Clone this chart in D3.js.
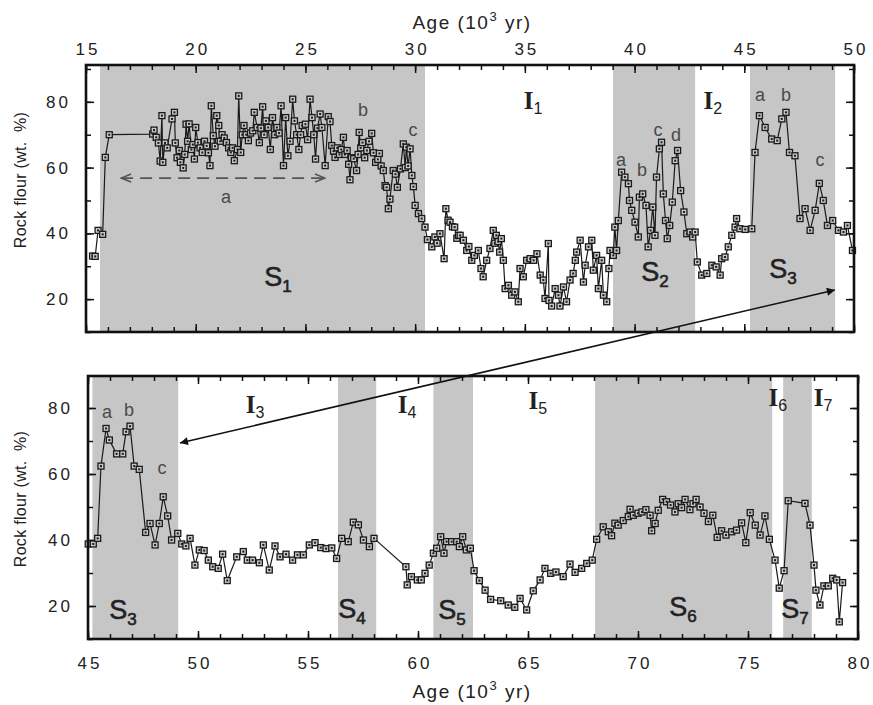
<!DOCTYPE html>
<html>
<head>
<meta charset="utf-8">
<script src="https://cdn.jsdelivr.net/npm/d3@7"></script>
<style>
  body { margin: 0; background: #fff; }
  text { font-family: "Liberation Sans", Arial, sans-serif; fill: #222; }
</style>
</head>
<body>
<div id="chart"></div>
<script>
const width = 873, height = 705;

// stadial bands (start, end) in 10^3 yr
const topStadials = [[15.64, 30.45], [39.02, 42.76], [45.26, 49.14]];
const bottomStadials = [[45.2, 49.1], [56.36, 58.1], [60.7, 62.5], [68.05, 76.1], [76.6, 77.9]];

const topAgeTicks = [15, 20, 25, 30, 35, 40, 45, 50];
const bottomAgeTicks = [45, 50, 55, 60, 65, 70, 75, 80];
const flourTicks = [20, 40, 60, 80];

// rock flour record [age, wt %]
const topRecord = [
  [15.30,33.1],[15.42,33.0],[15.55,40.9],[15.76,39.7],[15.88,63.1],[16.06,70.0],
  [18.04,70.2],[18.10,71.4],[18.20,69.2],[18.30,67.5],[18.38,62.0],[18.46,75.8],[18.50,61.6],[18.60,67.5],
  [18.70,66.0],[18.92,74.8],[19.03,76.8],[19.07,67.5],[19.15,63.0],[19.25,65.2],[19.30,61.6],[19.43,59.9],
  [19.50,64.0],[19.56,73.2],[19.63,68.0],[19.70,73.3],[19.80,65.5],[19.87,67.0],[19.94,62.6],[20.00,72.2],
  [20.10,67.6],[20.20,66.0],[20.30,64.6],[20.40,68.0],[20.50,66.6],[20.58,64.5],[20.65,60.6],[20.71,78.8],
  [20.80,69.7],[20.88,66.5],[20.96,75.8],[21.05,72.8],[21.12,68.0],[21.20,70.0],[21.30,69.0],[21.40,67.6],
  [21.50,66.0],[21.60,64.6],[21.68,66.0],[21.76,62.1],[21.90,65.5],[21.96,81.8],[22.05,64.6],[22.12,70.0],
  [22.20,72.8],[22.30,70.0],[22.40,68.2],[22.50,70.5],[22.60,71.2],[22.67,76.8],[22.80,72.2],[22.90,67.6],
  [22.97,72.0],[23.05,78.5],[23.12,70.0],[23.20,74.2],[23.30,72.2],[23.40,65.5],[23.50,75.2],[23.60,70.0],
  [23.70,72.2],[23.80,70.5],[23.89,78.8],[24.00,60.6],[24.10,75.2],[24.20,63.6],[24.30,68.0],[24.42,80.8],
  [24.50,74.2],[24.60,70.0],[24.70,65.5],[24.78,70.0],[24.85,72.8],[25.00,73.2],[25.10,68.5],[25.21,80.8],
  [25.30,75.2],[25.38,70.0],[25.46,62.6],[25.55,72.0],[25.67,76.3],[25.75,72.2],[25.90,60.6],[26.04,75.5],
  [26.12,74.0],[26.20,66.7],[26.28,65.0],[26.35,63.1],[26.45,66.0],[26.55,64.0],[26.63,65.5],[26.73,69.2],
  [26.80,64.0],[26.90,65.2],[26.97,61.0],[27.03,56.3],[27.10,63.0],[27.20,62.7],[27.33,59.1],[27.40,64.0],
  [27.45,70.7],[27.52,66.0],[27.60,67.6],[27.70,63.0],[27.80,65.2],[27.90,68.0],[28.02,70.4],[28.10,64.5],
  [28.20,61.6],[28.30,62.5],[28.37,64.3],[28.45,60.5],[28.55,59.1],[28.63,54.5],[28.70,54.0],[28.78,47.5],
  [28.85,50.4],[29.00,59.1],[29.10,58.0],[29.19,54.0],[29.33,59.6],[29.46,67.2],[29.55,60.0],[29.60,66.2],
  [29.68,60.5],[29.77,65.7],[29.85,57.6],[29.92,54.2],[30.00,48.5],[30.15,46.0],[30.30,44.5],[30.45,41.9],
  [30.56,38.1],[30.76,35.9],[30.90,38.9],[31.00,37.0],[31.13,39.9],[31.32,32.3],[31.40,47.5],[31.50,44.0],
  [31.59,43.4],[31.70,42.0],[31.80,41.9],[31.90,38.5],[31.97,39.4],[32.05,39.4],[32.20,37.9],[32.35,34.8],
  [32.45,36.0],[32.58,31.8],[32.70,33.3],[32.88,34.8],[33.00,29.3],[33.10,26.8],[33.26,31.8],[33.41,35.4],
  [33.56,40.9],[33.63,37.0],[33.70,39.4],[33.78,37.5],[33.85,34.3],[33.93,38.4],[34.02,31.8],[34.10,23.2],
  [34.25,24.2],[34.40,21.2],[34.55,22.2],[34.70,19.2],[34.78,29.3],[34.93,26.8],[35.08,31.8],[35.24,32.3],
  [35.40,31.8],[35.55,33.8],[35.70,27.3],[35.84,25.8],[35.92,20.2],[36.07,36.9],[36.10,19.6],[36.22,17.9],
  [36.38,23.2],[36.53,21.2],[36.60,17.9],[36.76,23.7],[36.90,19.2],[37.06,25.8],[37.20,27.8],[37.30,31.8],
  [37.36,34.3],[37.52,37.9],[37.67,25.2],[37.75,30.3],[37.90,35.9],[38.05,37.9],[38.12,28.8],[38.27,33.3],
  [38.35,23.2],[38.50,31.8],[38.58,21.2],[38.73,19.2],[38.83,29.3],[38.88,34.8],[39.03,33.3],[39.10,41.9],
  [39.18,34.8],[39.26,43.9],[39.41,58.6],[39.56,57.1],[39.72,55.1],[39.77,50.0],[39.87,47.0],[40.02,43.4],
  [40.17,38.9],[40.22,51.0],[40.37,52.0],[40.52,48.5],[40.62,35.9],[40.73,40.9],[40.83,48.0],[40.93,39.4],
  [41.00,57.1],[41.13,65.7],[41.23,67.7],[41.31,52.0],[41.41,43.9],[41.49,38.4],[41.60,42.4],[41.72,49.5],
  [41.85,62.1],[41.96,65.2],[42.10,53.0],[42.25,46.5],[42.38,39.9],[42.53,40.4],[42.65,38.9],[42.76,40.4],
  [42.86,31.3],[43.06,27.3],[43.29,27.8],[43.52,30.3],[43.72,29.8],[43.90,27.3],[43.97,32.3],[44.12,32.8],
  [44.27,35.9],[44.43,39.4],[44.58,41.9],[44.65,44.5],[44.80,41.4],[45.04,41.2],[45.34,41.4],[45.49,64.6],
  [45.69,75.8],[45.95,72.2],[46.25,68.7],[46.50,68.2],[46.71,74.8],[46.90,76.8],[47.06,64.6],[47.31,63.6],
  [47.54,44.5],[47.77,47.5],[48.00,40.9],[48.23,47.0],[48.42,55.2],[48.60,50.0],[48.79,42.4],[49.03,43.9],
  [49.29,40.9],[49.52,40.4],[49.70,42.4],[49.93,34.8]
];

const bottomRecord = [
  [45.01,38.8],[45.24,38.8],[45.44,40.5],[45.59,62.4],[45.82,73.8],[45.97,70.3],[46.30,66.1],[46.58,66.1],
  [46.73,72.8],[46.91,74.5],[47.10,62.4],[47.33,61.4],[47.62,42.3],[47.82,45.0],[48.05,38.5],[48.24,45.0],
  [48.42,53.1],[48.62,47.3],[48.80,40.0],[49.08,42.0],[49.26,38.8],[49.45,38.2],[49.64,40.5],[49.86,32.4],
  [50.06,37.0],[50.28,36.8],[50.47,33.9],[50.67,31.9],[50.92,31.4],[51.12,35.7],[51.33,27.7],[51.76,34.9],
  [52.06,36.5],[52.24,33.9],[52.48,33.9],[52.79,33.1],[52.97,38.5],[53.24,30.9],[53.50,38.2],[53.73,34.9],
  [54.00,35.7],[54.30,33.9],[54.52,35.5],[54.79,35.5],[55.06,38.5],[55.32,39.2],[55.58,37.7],[55.82,37.4],
  [56.08,37.6],[56.30,34.4],[56.53,40.5],[56.83,39.5],[57.06,45.4],[57.29,44.6],[57.52,40.0],[57.79,38.0],
  [58.00,40.5],[59.45,31.9],[59.51,26.4],[59.70,28.9],[59.97,27.9],[60.15,27.9],[60.32,29.9],[60.51,32.4],
  [60.70,36.0],[60.85,37.5],[61.03,41.0],[61.18,36.0],[61.30,39.5],[61.53,39.5],[61.76,39.5],[61.88,38.0],
  [62.03,41.0],[62.20,37.0],[62.38,37.5],[62.55,30.7],[62.79,27.7],[63.05,24.8],[63.30,22.0],[63.76,21.6],
  [64.10,20.3],[64.40,19.6],[64.64,22.3],[64.94,18.8],[65.24,24.6],[65.55,27.9],[65.77,31.4],[66.03,29.9],
  [66.27,30.3],[66.60,28.9],[66.91,32.7],[67.14,30.2],[67.44,31.4],[67.67,32.9],[67.92,33.9],[68.12,40.2],
  [68.42,44.0],[68.65,42.5],[68.80,41.3],[68.95,45.1],[69.10,44.5],[69.33,45.9],[69.56,47.1],[69.64,49.3],
  [69.79,47.5],[70.00,48.1],[70.18,48.5],[70.36,49.2],[70.55,47.5],[70.62,42.8],[70.78,45.0],[70.92,49.0],
  [71.12,52.3],[71.30,51.6],[71.48,50.6],[71.68,48.5],[71.83,51.0],[71.98,49.8],[72.14,52.3],[72.36,49.2],
  [72.50,51.0],[72.64,52.3],[72.82,50.0],[73.00,48.1],[73.20,45.6],[73.40,47.5],[73.60,40.8],[73.80,42.8],
  [74.00,41.5],[74.26,42.5],[74.48,43.0],[74.71,45.2],[74.90,39.2],[75.10,48.3],[75.33,44.5],[75.55,41.5],
  [75.77,47.3],[75.97,40.2],[76.23,33.9],[76.42,25.4],[76.64,30.7],[76.83,51.9],[77.59,51.1],[77.82,44.5],
  [78.00,32.4],[78.09,24.8],[78.27,20.3],[78.45,26.1],[78.65,26.1],[78.85,28.4],[79.03,27.9],[79.15,15.2],
  [79.30,27.1]
];

// interval / stadial names and peak letters, placed at [age, wt %]
const topNames = [
  {kind: 'I', sub: '1', at: [35.37, 79.6]}, {kind: 'I', sub: '2', at: [43.57, 79.6]},
  {kind: 'S', sub: '1', at: [23.75, 25.8]}, {kind: 'S', sub: '2', at: [40.93, 27.3]},
  {kind: 'S', sub: '3', at: [46.76, 28.2]}
];
const topLetters = [
  ['a', 21.38, 51.1], ['b', 27.62, 77.5], ['c', 29.9, 71.4],
  ['a', 39.38, 62.3], ['b', 40.34, 59.3], ['c', 41.07, 71.4], ['d', 41.89, 69.9],
  ['a', 45.72, 82.1], ['b', 46.9, 82.1], ['c', 48.45, 62.3]
];
const bottomNames = [
  {kind: 'I', sub: '3', at: [52.59, 80.3]}, {kind: 'I', sub: '4', at: [59.5, 80.3]},
  {kind: 'I', sub: '5', at: [65.45, 81.5]}, {kind: 'I', sub: '6', at: [76.36, 82.4]},
  {kind: 'I', sub: '7', at: [78.41, 82.4]},
  {kind: 'S', sub: '3', at: [46.59, 17.9]}, {kind: 'S', sub: '4', at: [57.0, 18.2]},
  {kind: 'S', sub: '5', at: [61.55, 17.9]}, {kind: 'S', sub: '6', at: [72.05, 18.8]},
  {kind: 'S', sub: '7', at: [77.14, 18.2]}
];
const bottomLetters = [['a', 45.86, 78.8], ['b', 46.86, 79.4], ['c', 48.36, 61.8]];
const spanA = [16.6, 25.89, 56.8]; // dashed double arrow (from, to, wt %)

const svg = d3.select('#chart').append('svg')
  .attr('width', width)
  .attr('height', height);

const defs = svg.append('defs');
defs.append('marker')
  .attr('id', 'head')
  .attr('viewBox', '0 0 10 10')
  .attr('refX', 10).attr('refY', 5)
  .attr('markerWidth', 15).attr('markerHeight', 8)
  .attr('markerUnits', 'userSpaceOnUse')
  .attr('orient', 'auto-start-reverse')
  .append('path').attr('d', 'M0,0L10,5L0,10Z').attr('fill', '#111');
defs.append('marker')
  .attr('id', 'chevron')
  .attr('viewBox', '0 0 10 10')
  .attr('refX', 10).attr('refY', 5)
  .attr('markerWidth', 12).attr('markerHeight', 10)
  .attr('markerUnits', 'userSpaceOnUse')
  .attr('orient', 'auto-start-reverse')
  .append('path').attr('d', 'M0,1L10,5L0,9').attr('fill', 'none')
  .attr('stroke', '#555').attr('stroke-width', 1.6);

const tickFont = s => s.selectAll('text')
  .attr('font-size', 17)
  .attr('letter-spacing', 3)
  .attr('font-family', '"Liberation Sans", Arial, sans-serif')
  .attr('fill', '#222');

function drawPanel(cfg) {
  const x = d3.scaleLinear().domain(cfg.ages).range([cfg.left, cfg.right]);
  const y = d3.scaleLinear().domain([10, cfg.top]).range([cfg.bottom, cfg.y0]);
  const g = svg.append('g');

  // grey stadial bands
  g.selectAll('rect.band')
    .data(cfg.bands)
    .enter().append('rect')
    .attr('class', 'band')
    .attr('x', d => x(d[0]))
    .attr('y', cfg.y0)
    .attr('width', d => x(d[1]) - x(d[0]))
    .attr('height', cfg.bottom - cfg.y0)
    .attr('fill', '#c6c6c6');

  // inward ticks on all four sides
  const minorAges = d3.range(cfg.ages[0], cfg.ages[1] + 0.5, 1);
  const minorFlour = d3.range(10, cfg.top, 10);
  const sides = [
    [d3.axisTop(x), `translate(0,${cfg.bottom})`, minorAges, cfg.ageTicks],
    [d3.axisBottom(x), `translate(0,${cfg.y0})`, minorAges, cfg.ageTicks],
    [d3.axisRight(y), `translate(${cfg.left},0)`, minorFlour, flourTicks],
    [d3.axisLeft(y), `translate(${cfg.right},0)`, minorFlour, flourTicks]
  ];
  sides.forEach(([ax, tr, minor, major]) => {
    g.append('g').attr('transform', tr)
      .call(ax.tickValues(minor).tickSize(5).tickFormat(''))
      .call(s => s.select('.domain').remove())
      .call(s => s.selectAll('line').attr('stroke', '#111').attr('stroke-width', 1.5));
    g.append('g').attr('transform', tr)
      .call(ax.tickValues(major).tickSize(8).tickFormat(''))
      .call(s => s.select('.domain').remove())
      .call(s => s.selectAll('line').attr('stroke', '#111').attr('stroke-width', 1.5));
  });

  // tick labels
  const xLab = cfg.labelsOnTop ? d3.axisTop(x) : d3.axisBottom(x);
  g.append('g')
    .attr('transform', `translate(1.5,${cfg.labelsOnTop ? cfg.y0 : cfg.bottom})`)
    .call(xLab.tickValues(cfg.ageTicks).tickSize(0).tickPadding(cfg.labelsOnTop ? 10 : 18))
    .call(s => s.select('.domain').remove())
    .call(tickFont);
  g.append('g')
    .attr('transform', `translate(${cfg.left},0)`)
    .call(d3.axisLeft(y).tickValues(flourTicks).tickSize(0).tickPadding(15))
    .call(s => s.select('.domain').remove())
    .call(tickFont);

  g.append('text')
    .attr('transform', `translate(26,${cfg.labelMid}) rotate(-90)`)
    .attr('text-anchor', 'middle')
    .attr('font-size', 16)
    .attr('letter-spacing', 0.3)
    .attr('xml:space', 'preserve')
    .text('Rock flour (wt.  %)');

  // record line and square markers
  g.append('path')
    .datum(cfg.record)
    .attr('fill', 'none')
    .attr('stroke', '#1a1a1a')
    .attr('stroke-width', 1.2)
    .attr('d', d3.line().x(d => x(d[0])).y(d => y(d[1])));
  const pts = g.selectAll('g.pt')
    .data(cfg.record)
    .enter().append('g')
    .attr('transform', d => `translate(${x(d[0])},${y(d[1])})`);
  pts.append('rect')
    .attr('x', -3).attr('y', -3).attr('width', 6).attr('height', 6)
    .attr('fill', '#c8c8c8').attr('stroke', '#1a1a1a').attr('stroke-width', 1.3);
  pts.append('rect')
    .attr('x', -1).attr('y', -1).attr('width', 2).attr('height', 2)
    .attr('fill', '#1a1a1a');

  // names: I in bold serif, S in sans
  cfg.names.forEach(n => {
    const t = g.append('text')
      .attr('x', x(n.at[0]))
      .attr('y', y(n.at[1]))
      .attr('dy', '0.35em')
      .attr('text-anchor', 'middle');
    if (n.kind === 'I') {
      t.append('tspan').text('I')
        .attr('font-family', '"Liberation Serif", "Times New Roman", serif')
        .attr('font-weight', 'bold').attr('font-size', 25);
      t.append('tspan').text(n.sub).attr('font-size', 16).attr('dy', 5);
    } else {
      t.attr('stroke', '#222').attr('stroke-width', 0.6);
      t.append('tspan').text('S').attr('font-size', 27);
      t.append('tspan').text(n.sub).attr('font-size', 17).attr('dy', 6);
    }
  });

  g.selectAll('text.peak')
    .data(cfg.letters)
    .enter().append('text')
    .attr('class', 'peak')
    .attr('x', d => x(d[1]))
    .attr('y', d => y(d[2]))
    .attr('dy', '0.35em')
    .attr('text-anchor', 'middle')
    .attr('font-size', 18)
    .style('fill', '#4a4a4a')
    .text(d => d[0]);

  // frame
  g.append('rect')
    .attr('x', cfg.left).attr('y', cfg.y0)
    .attr('width', cfg.right - cfg.left)
    .attr('height', cfg.bottom - cfg.y0)
    .attr('fill', 'none')
    .attr('stroke', '#111')
    .attr('stroke-width', 2.6);

  return {x, y, g};
}

const topPanel = drawPanel({
  ages: [15, 50], left: 86, right: 854, y0: 65, bottom: 332, top: 91.2, labelMid: 180,
  bands: topStadials, ageTicks: topAgeTicks, record: topRecord,
  names: topNames, letters: topLetters, labelsOnTop: true
});
const bottomPanel = drawPanel({
  ages: [45, 80], left: 88, right: 858, y0: 376, bottom: 639, top: 89.7, labelMid: 499,
  bands: bottomStadials, ageTicks: bottomAgeTicks, record: bottomRecord,
  names: bottomNames, letters: bottomLetters, labelsOnTop: false
});

// dashed span "a" in S1
topPanel.g.append('line')
  .attr('x1', topPanel.x(spanA[0])).attr('x2', topPanel.x(spanA[1]))
  .attr('y1', topPanel.y(spanA[2])).attr('y2', topPanel.y(spanA[2]))
  .attr('stroke', '#555').attr('stroke-width', 1.6)
  .attr('stroke-dasharray', '12,7')
  .attr('marker-start', 'url(#chevron)')
  .attr('marker-end', 'url(#chevron)');

// axis titles
[29, 698].forEach(yy => {
  const t = svg.append('text')
    .attr('x', 472).attr('y', yy)
    .attr('text-anchor', 'middle')
    .attr('font-size', 19)
    .attr('letter-spacing', 1.5);
  t.append('tspan').text('Age (10');
  t.append('tspan').text('3').attr('font-size', 13).attr('dy', -8);
  t.append('tspan').text(' yr)').attr('dy', 8);
});

// arrow linking S3 in both panels
svg.append('line')
  .attr('x1', bottomPanel.x(49.18)).attr('y1', bottomPanel.y(69.4))
  .attr('x2', topPanel.x(49.13)).attr('y2', topPanel.y(22.8))
  .attr('stroke', '#111').attr('stroke-width', 1.6)
  .attr('marker-start', 'url(#head)')
  .attr('marker-end', 'url(#head)');
</script>
</body>
</html>
